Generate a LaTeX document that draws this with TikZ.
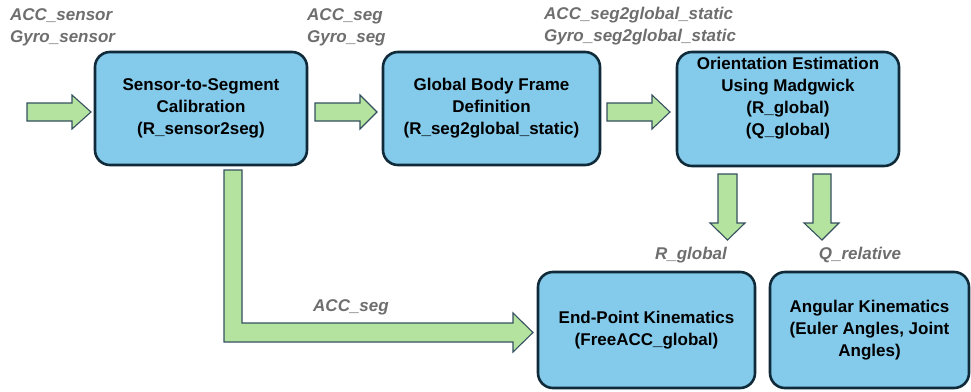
\documentclass[tikz,border=0pt]{standalone}
\usepackage{fontspec}
\setmainfont{Liberation Sans}
\definecolor{boxfill}{HTML}{84CAEB}
\definecolor{boxedge}{HTML}{0F2A39}
\definecolor{arrfill}{HTML}{B4E3A0}
\definecolor{arredge}{HTML}{35505E}
\definecolor{lblgray}{HTML}{6E6E6E}
\tikzset{
  box/.style={draw=boxedge, fill=boxfill, line width=2.6pt, rounded corners=15pt,
    align=center, font=\fontsize{17}{22}\selectfont\bfseries, text=black, inner sep=0pt},
  boxtext/.style={align=center, font=\fontsize{17}{22}\selectfont\bfseries, text=black, inner sep=0pt},
  lbl/.style={font=\fontsize{17}{22}\selectfont\bfseries\itshape, text=lblgray, inner sep=0pt},
  blockarrow/.style={draw=arredge, fill=arrfill, line width=1.1pt, line join=miter}
}
\begin{document}
\begin{tikzpicture}[x=1pt, y=-1pt]
\useasboundingbox[fill=white] (0,0) rectangle (971,391);
% boxes
\node[box, minimum width=212pt, minimum height=113pt] (b1) at (201,108.5)
  {Sensor-to-Segment\\Calibration\\(R\_sensor2seg)};
\node[box, minimum width=217pt, minimum height=113pt] (b2) at (491.5,108.5)
  {Global Body Frame\\Definition\\(R\_seg2global\_static)};
\node[box, minimum width=222pt, minimum height=114pt] (b3) at (788,109) {};
\node[boxtext] (b3t) at (788,98)
  {Orientation Estimation\\Using Madgwick\\(R\_global)\\(Q\_global)};
\node[box, minimum width=217pt, minimum height=116pt] (b4) at (646.5,330)
  {End-Point Kinematics\\(FreeACC\_global)};
\node[box, minimum width=199pt, minimum height=116pt] (b5) at (869.5,330)
  {Angular Kinematics\\(Euler Angles, Joint\\Angles)};
% labels
\node[lbl, anchor=west, align=left] (l1) at (10,27) {ACC\_sensor\\Gyro\_sensor};
\node[lbl, anchor=west, align=left] (l2) at (307,27) {ACC\_seg\\Gyro\_seg};
\node[lbl, anchor=west, align=left] (l3) at (544,26) {ACC\_seg2global\_static\\Gyro\_seg2global\_static};
\node[lbl] (l4) at (691,255) {R\_global};
\node[lbl] (l5) at (860,255) {Q\_relative};
\node[lbl] (l6) at (351,307) {ACC\_seg};
% horizontal block arrows
\draw[blockarrow] (27,103) -- (72,103) -- (72,95) -- (91,112) -- (72,129) -- (72,121) -- (27,121) -- cycle;
\draw[blockarrow] (315,103) -- (360,103) -- (360,95) -- (377,112) -- (360,129) -- (360,121) -- (315,121) -- cycle;
\draw[blockarrow] (607,103) -- (652,103) -- (652,95) -- (670,112) -- (652,129) -- (652,121) -- (607,121) -- cycle;
% down block arrows
\draw[blockarrow] (718,174) -- (737,174) -- (737,223) -- (745,223) -- (727.5,240) -- (710,223) -- (718,223) -- cycle;
\draw[blockarrow] (813,174) -- (831,174) -- (831,223) -- (839,223) -- (822,240) -- (804,223) -- (813,223) -- cycle;
% L-shaped block arrow
\draw[blockarrow] (224,170) -- (242,170) -- (242,323) -- (513,323) -- (513,313) -- (533,332.5) -- (513,352) -- (513,342) -- (224,342) -- cycle;
\end{tikzpicture}
\end{document}
